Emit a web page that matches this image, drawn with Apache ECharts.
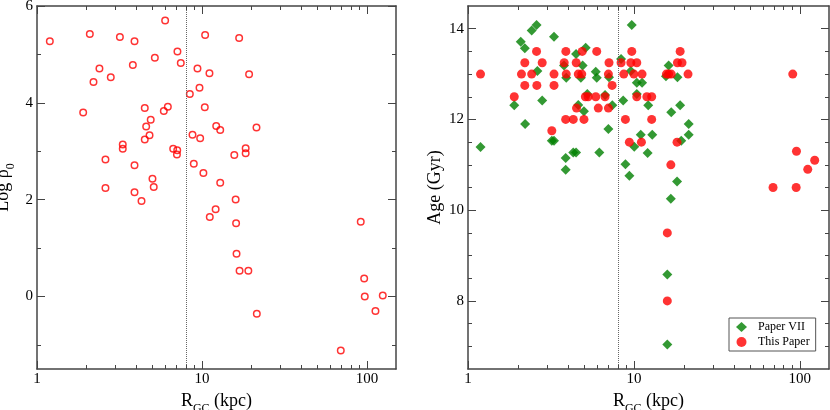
<!DOCTYPE html>
<html lang="en">
<head>
<meta charset="utf-8" />
<title>Log rho0 and Age vs R_GC</title>
<script src="https://cdn.jsdelivr.net/npm/echarts@6.0.0/dist/echarts.min.js"></script>
<style>
    html, body { margin: 0; padding: 0; background: #fff; }
    #main { width: 830px; height: 410px; }
</style>
</head>
<body>
<div id="main"></div>
<script>
// left panel: central density vs galactocentric distance
var rgcRho = [1.196, 2.09, 3.18, 3.90, 5.98, 7.10, 5.18, 7.44, 2.39, 3.81, 2.80, 2.20, 1.905,
    4.50, 6.21, 5.87, 4.89, 4.59, 4.81, 4.50, 3.31, 3.31, 6.69, 7.08, 7.05, 2.60, 3.90, 5.01,
    5.10, 2.60, 3.90, 4.30, 10.45, 8.44, 9.39, 9.66, 11.1, 16.8, 19.3, 10.4, 12.2, 12.9, 21.4,
    8.76, 9.75, 18.4, 18.4, 15.7, 8.92, 10.2, 12.9, 16.0, 12.1, 11.15, 16.1, 16.2, 16.9, 19.1,
    21.5, 69.4, 91.7, 96.2, 97.0, 124.7, 112.6];
var logRho = [5.27, 5.42, 5.36, 5.27, 5.70, 5.06, 4.93, 4.82, 4.71, 4.78, 4.53, 4.43, 3.80,
    3.89, 3.92, 3.83, 3.65, 3.51, 3.33, 3.24, 3.14, 3.05, 3.05, 3.02, 2.93, 2.83, 2.71, 2.43,
    2.26, 2.24, 2.15, 1.97, 5.40, 4.18, 4.71, 4.31, 4.61, 5.34, 4.59, 3.91, 3.52, 3.44, 3.49,
    3.34, 3.27, 3.06, 2.96, 2.92, 2.74, 2.55, 2.35, 2.00, 1.80, 1.64, 1.51, 0.88, 0.53, 0.53,
    -0.36, -1.12, 1.54, 0.37, 0.00, 0.02, -0.30];

// right panel: ages, Paper VII
var rgcPaper7 = [1.19, 1.90, 2.08, 2.20, 2.21, 2.42, 2.59, 2.62, 2.80, 3.20, 3.30, 3.30, 3.79,
    3.88, 3.88, 3.91, 4.31, 4.48, 4.48, 4.62, 4.79, 4.91, 5.0, 5.12, 5.24, 5.89, 5.97, 6.19,
    6.70, 7.02, 7.08, 7.41, 8.37, 8.62, 8.89, 9.39, 9.58, 9.71, 10.05, 10.41, 10.41, 11.0,
    11.2, 12.1, 12.2, 12.9, 15.6, 16.2, 16.7, 15.9, 15.9, 16.8, 18.2, 18.3, 19.0, 19.3, 21.4, 21.4];
var agePaper7 = [11.39, 12.31, 13.71, 13.57, 11.90, 13.96, 14.08, 13.07, 12.42, 11.53, 11.53,
    13.82, 13.19, 11.15, 10.89, 12.92, 11.27, 11.27, 13.44, 12.32, 12.92, 13.19, 12.18, 13.58,
    12.56, 13.05, 12.92, 11.27, 12.54, 11.79, 12.93, 12.31, 13.33, 12.42, 11.01, 10.76, 13.07,
    14.08, 11.40, 12.81, 12.56, 11.66, 12.81, 11.26, 12.31, 11.66, 12.95, 13.19, 10.25, 8.58,
    7.04, 12.16, 10.63, 12.93, 12.31, 11.53, 11.90, 11.66];

// right panel: ages, this paper
var rgcThis = [1.19, 1.90, 2.10, 2.20, 2.20, 2.42, 2.59, 2.60, 2.80, 3.20, 3.30, 3.30, 3.80,
    3.88, 3.89, 3.91, 4.31, 4.49, 4.51, 4.62, 4.85, 4.88, 5.0, 5.1, 5.3, 5.89, 5.97, 6.1, 6.70,
    7.02, 7.02, 7.08, 7.39, 8.37, 8.69, 8.89, 9.39, 9.58, 9.71, 10.0, 10.41, 10.41, 11.1, 11.2,
    11.97, 12.8, 12.8, 15.7, 16.2, 16.8, 16.7, 15.9, 15.9, 18.2, 18.3, 19.5, 19.0, 21.2, 69.0,
    90.7, 95.1, 95.5, 111.7, 123.0];
var ageThis = [13.0, 12.5, 13.0, 13.25, 12.75, 13.0, 13.5, 12.75, 13.25, 11.75, 13.0, 12.75,
    13.25, 12.0, 13.5, 13.0, 12.0, 13.25, 12.25, 13.0, 13.0, 13.5, 12.0, 12.5, 12.5, 12.5, 13.5,
    12.25, 12.5, 12.25, 13.0, 13.25, 12.75, 13.25, 13.0, 12.0, 11.5, 13.25, 13.5, 13.0, 13.25,
    12.5, 11.5, 13.0, 12.5, 12.5, 12.0, 13.0, 13.0, 13.0, 11.0, 9.5, 8.0, 11.5, 13.25, 13.25,
    13.5, 13.0, 10.5, 13.0, 10.5, 11.3, 10.9, 11.1];

// ticks
var xMajor = [1, 10, 100];
var xMinor = [2, 3, 4, 5, 6, 7, 8, 9, 20, 30, 40, 50, 60, 70, 80, 90];
var rhoMajor = [0, 2, 4, 6];
var rhoMinor = [-1, 1, 3, 5];
var ageMajor = [8, 10, 12, 14];
var ageMinor = [7, 7.5, 8.5, 9, 9.5, 10.5, 11, 11.5, 12.5, 13, 13.5];
var sunDist = 8;

var font = 'Liberation Serif';
var frame = '#444';

function zip(a, b) {
    var out = [];
    for (var i = 0; i < a.length; i++) {
        out.push([a[i], b[i]]);
    }
    return out;
}

function xAxes(grid) {
    var list = [];
    ['bottom', 'top'].forEach(function (pos) {
        list.push({
            type: 'log', logBase: 10, gridIndex: grid, position: pos, min: 1, max: 150, z: 10,
            name: pos === 'bottom' ? 'R{sub|GC} (kpc)' : '',
            nameLocation: 'middle', nameGap: 17,
            nameTextStyle: {
                fontFamily: font, fontSize: 18, color: '#000',
                rich: {sub: {fontFamily: font, fontSize: 12, color: '#000', lineHeight: 28, verticalAlign: 'bottom'}}
            },
            axisLine: {show: true, onZero: false, lineStyle: {color: frame, width: 1.5}},
            axisTick: {show: true, inside: true, length: 8, customValues: xMajor, lineStyle: {color: frame, width: 1}},
            axisLabel: {show: pos === 'bottom', customValues: xMajor, margin: 3,
                fontFamily: font, fontSize: 15, color: '#000'},
            splitLine: {show: false}
        });
        list.push({
            type: 'log', logBase: 10, gridIndex: grid, position: pos, min: 1, max: 150, z: 10,
            axisLine: {show: false, onZero: false},
            axisTick: {show: true, inside: true, length: 4, customValues: xMinor, lineStyle: {color: frame, width: 1}},
            axisLabel: {show: false},
            splitLine: {show: false}
        });
    });
    return list;
}

function yAxes(grid, min, max, major, minor, title, gap) {
    var list = [];
    ['left', 'right'].forEach(function (pos) {
        list.push({
            type: 'value', gridIndex: grid, position: pos, min: min, max: max, z: 10,
            name: pos === 'left' ? title : '',
            nameLocation: 'middle', nameGap: gap, nameRotate: 90,
            nameTextStyle: {
                fontFamily: font, fontSize: 18, color: '#000',
                rich: {sub: {fontFamily: font, fontSize: 12, color: '#000', lineHeight: 28, verticalAlign: 'bottom'}}
            },
            axisLine: {show: true, onZero: false, lineStyle: {color: frame, width: 1.5}},
            axisTick: {show: true, inside: true, length: 8, customValues: major, lineStyle: {color: frame, width: 1}},
            axisLabel: {show: pos === 'left', customValues: major, margin: 4,
                fontFamily: font, fontSize: 15, color: '#000'},
            splitLine: {show: false}
        });
        list.push({
            type: 'value', gridIndex: grid, position: pos, min: min, max: max, z: 10,
            axisLine: {show: false, onZero: false},
            axisTick: {show: true, inside: true, length: 4, customValues: minor, lineStyle: {color: frame, width: 1}},
            axisLabel: {show: false},
            splitLine: {show: false}
        });
    });
    return list;
}

// dotted line at the solar distance, one object per series
function sunLine() {
    return {
        silent: true,
        symbol: ['none', 'none'],
        label: {show: false},
        lineStyle: {color: '#666', type: 'dotted', width: 1},
        data: [{xAxis: sunDist}]
    };
}

var myChart = echarts.init(document.getElementById('main'), null, {renderer: 'canvas'});

var option = {
    animation: false,
    backgroundColor: '#fff',
    title: {text: ''},
    grid: [
        {left: 37, top: 6, width: 359, height: 363, outerBoundsMode: 'none', containLabel: false},
        {left: 468, top: 6, width: 361, height: 363, outerBoundsMode: 'none', containLabel: false}
    ],
    xAxis: xAxes(0).concat(xAxes(1)),
    yAxis: yAxes(0, -1.5, 6, rhoMajor, rhoMinor, 'Log ρ{sub|0}', 20)
        .concat(yAxes(1, 6.5, 14.5, ageMajor, ageMinor, 'Age (Gyr)', 24)),
    legend: {
        data: [{name: 'Paper VII', icon: 'diamond'}, {name: 'This Paper', icon: 'circle'}],
        orient: 'vertical', left: 729, top: 318,
        padding: [3, 6, 3, 7], itemGap: 3, itemWidth: 11, itemHeight: 10,
        symbolKeepAspect: true,
        borderColor: '#555', borderWidth: 1, borderRadius: 0,
        selectedMode: false,
        textStyle: {fontFamily: font, fontSize: 12, color: '#000', padding: [0, 0, 0, 6]}
    },
    series: [
        {
            name: 'rho', type: 'scatter', xAxisIndex: 0, yAxisIndex: 0,
            symbol: 'circle', symbolSize: 6.5,
            itemStyle: {color: 'transparent', borderColor: '#ff0000', borderWidth: 1.5},
            data: zip(rgcRho, logRho),
            markLine: sunLine()
        },
        {
            name: 'Paper VII', type: 'scatter', xAxisIndex: 4, yAxisIndex: 4,
            symbol: 'diamond', symbolSize: 10,
            itemStyle: {color: '#008000'},
            data: zip(rgcPaper7, agePaper7),
            markLine: sunLine()
        },
        {
            name: 'This Paper', type: 'scatter', xAxisIndex: 4, yAxisIndex: 4,
            symbol: 'circle', symbolSize: 9,
            itemStyle: {color: '#ff0000'},
            data: zip(rgcThis, ageThis)
        }
    ]
};

myChart.setOption(option);
</script>
</body>
</html>
